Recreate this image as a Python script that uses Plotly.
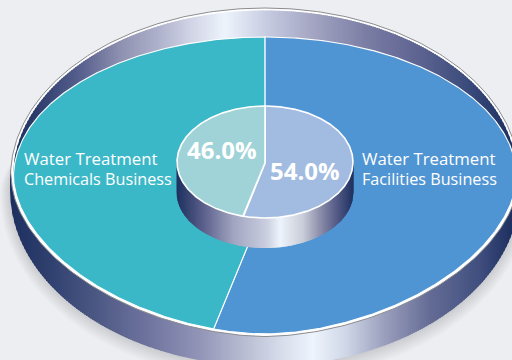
import numpy as np
import plotly.graph_objects as go

# Business segment shares (percent), drawn clockwise from twelve o'clock
categories = ["Water Treatment Facilities Business", "Water Treatment Chemicals Business"]
shares = [54.0, 46.0]
share_labels = ["54.0%", "46.0%"]
label_lines_right = ["Water Treatment", "Facilities Business"]
label_lines_left = ["Water Treatment", "Chemicals Business"]

BG = "#edeef1"
CX = 265.0
FONT = "Open Sans"

DARK = "#1b2f5e"
BACK_STOPS = [(10, DARK), (33, "#2a3a6a"), (83, "#5a6290"), (120, "#8e90b0"), (160, "#b0b3cc"),
              (190, "#cfd3e5"), (225, "#eef4fc"), (265, "#c8cde2"), (310, "#a5a7c4"),
              (370, "#787ba2"), (420, "#5c6390"), (470, "#394a7a"), (512, "#1d3060")]
FRONT_STOPS = [(10, DARK), (50, "#30406f"), (100, "#4e5a85"), (150, "#7075a0"), (200, "#9295b7"),
               (240, "#b5b9d0"), (290, "#dde4f0"), (313, "#eef4fc"), (345, "#d0d8e8"),
               (385, "#9a9ebc"), (430, "#646c95"), (480, "#3f4e7e"), (512, "#1d3060")]
HUB_STOPS = [(176, DARK), (203, "#5a5f8a"), (233, "#a0a4c0"), (267, "#cacfe0"), (280, "#eef4fc"),
             (303, "#c8cdd8"), (320, "#8c8eaa"), (335, "#5a5f8a"), (354, DARK)]


def hex_rgb(h):
    return np.array([int(h[i:i + 2], 16) for i in (1, 3, 5)], dtype=float)


def ramp(x, stops):
    xs = [s[0] for s in stops]
    cols = np.array([hex_rgb(s[1]) for s in stops])
    r, g, b = (np.interp(x, xs, cols[:, i]) for i in range(3))
    return f"rgb({r:.0f},{g:.0f},{b:.0f})"


def half(x, cy, rx, ry, sign, p=2.0):
    """Half of a (super)ellipse centred on CX; sign -1 is the upper half, +1 the lower."""
    u = np.clip(np.abs(np.asarray(x, dtype=float) - CX) / rx, 0, 1)
    return cy + sign * ry * (1 - u ** p) ** (1 / p)


# Outline curves of the large dish
RIM_TOP = dict(cy=177, rx=254.5, ry=169, sign=-1)
RIM_INNER = dict(cy=177, rx=252, ry=166.5, sign=-1)
FACE_TOP = dict(cy=177, rx=251.5, ry=140, sign=-1)
FACE_BOTTOM = dict(cy=177, rx=251.5, ry=157, sign=1, p=1.8)
RIM_BOTTOM = dict(cy=179, rx=253.5, ry=157.5, sign=1, p=1.8)
WALL_BOTTOM = dict(cy=190, rx=255, ry=176, sign=1)
APEX_Y = 204.0

# The central hub
HUB_TOP = dict(cy=162, rx=88, ry=56, sign=-1)
HUB_BOTTOM = dict(cy=162, rx=88, ry=56, sign=1)
HUB_WALL = dict(cy=192, rx=88.5, ry=56, sign=1)


def closed_outline(top, bottom, n=400):
    t = np.linspace(0, 2 * np.pi, n)
    xs = []
    ys = []
    for a in t:
        curve = top if np.cos(a) >= 0 else bottom
        x = CX + curve["rx"] * np.sin(a)
        xs.append(x)
        ys.append(float(half(x, **curve)))
    return xs, ys


def wedge(top, bottom, apex_y, start, stop, n=400):
    """Slice between two cumulative fractions, with its point at (CX, apex_y)."""
    def point(a):
        curve = top if np.cos(a) >= 0 else bottom
        x = CX + curve["rx"] * np.sin(a)
        return x, float(half(x, **curve))

    def on_ray(frac):
        ang = 2 * np.pi * frac
        dx, dy = bottom["rx"] * np.sin(ang), -(top["ry"] if np.cos(ang) >= 0 else bottom["ry"]) * np.cos(ang)
        best, best_err = ang, 1e12
        for a in np.linspace(ang - 0.6, ang + 0.6, 1200):
            px, py = point(a)
            vx, vy = px - CX, py - apex_y
            if vx * dx + vy * dy <= 0:
                continue
            err = abs(vx * dy - vy * dx)
            if err < best_err:
                best, best_err = a, err
        return best

    a0, a1 = on_ray(start), on_ray(stop)
    pts = [point(a) for a in np.linspace(a0, a1, n)]
    return [CX] + [p[0] for p in pts] + [CX], [apex_y] + [p[1] for p in pts] + [apex_y]


def strips(fig, x_left, x_right, y_upper, y_lower, stops, step=2):
    """Vertical bands that build a left-to-right metallic shading; each follows its bounding curves."""
    for x in np.arange(x_left, x_right, step):
        sub = np.linspace(x, min(x + step + 1, x_right), 6)
        top = np.asarray(y_upper(sub), dtype=float) * np.ones_like(sub)
        bot = np.asarray(y_lower(sub), dtype=float) * np.ones_like(sub)
        if np.all(bot <= top):
            continue
        xs = list(sub) + list(sub[::-1]) + [sub[0]]
        ys = list(top) + list(bot[::-1]) + [top[0]]
        fig.add_trace(go.Scatter(x=xs, y=ys, mode="lines", line=dict(width=0), fill="toself",
                                 fillcolor=ramp(x + step / 2, stops),
                                 hoverinfo="skip", showlegend=False))


fig = go.Figure()


def poly(xs, ys, fill, line_color=None, line_width=0, name=None):
    fig.add_trace(go.Scatter(x=xs, y=ys, mode="lines", fill="toself", fillcolor=fill,
                             line=dict(color=line_color or fill, width=line_width),
                             hoverinfo="skip", showlegend=False, name=name))


# Soft drop shadow under the lower half of the dish; the upper half stays hidden behind the rim
for k in range(1, 12):
    low = dict(cy=190 + k * 0.4, rx=255 + k * 0.9, ry=176 + k * 1.0, sign=1)
    up = dict(cy=190 + k * 0.4, rx=255 + k * 0.9, ry=110, sign=-1)
    sx, sy = closed_outline(up, low)
    poly(sx, sy, "rgba(60,60,70,0.014)")

# Outer wall of the dish
strips(fig, 10, 520, lambda x: 170.0 + 0 * x, lambda x: half(x, **WALL_BOTTOM), FRONT_STOPS)

# White rim with its thin grey edge, then the shaded back wall inside it
rx_, ry_ = closed_outline(RIM_TOP, RIM_BOTTOM)
poly(rx_, ry_, "#ffffff", "#8b8c90", 1)
strips(fig, 13, 517,
       lambda x: half(x, **RIM_INNER),
       lambda x: half(x, **FACE_TOP) + 2, BACK_STOPS)

# Outer ring slices
face_colors = ["#5095d3", "#3bb8c8"]
hub_colors = ["#a2bbe0", "#9fd3d8"]
edges = np.cumsum([0.0] + shares) / sum(shares)
for i, cat in enumerate(categories):
    xs, ys = wedge(FACE_TOP, FACE_BOTTOM, APEX_Y, edges[i], edges[i + 1])
    poly(xs, ys, face_colors[i], "#ffffff", 1.1, name=cat)

# Hub wall and top
strips(fig, 176.5, 353.5, lambda x: 162.0 + 0 * x, lambda x: half(x, **HUB_WALL), HUB_STOPS, step=1)
for i, cat in enumerate(categories):
    xs, ys = wedge(HUB_TOP, HUB_BOTTOM, 163.0, edges[i], edges[i + 1])
    poly(xs, ys, hub_colors[i], "#ffffff", 1.6, name=cat)


def text(x, y, s, size, bold=False, anchor="left"):
    fig.add_annotation(x=x, y=y, text=f"<b>{s}</b>" if bold else s, showarrow=False,
                       xanchor=anchor, yanchor="middle", align="left", xref="x", yref="y",
                       font=dict(family=FONT, size=size, color="#ffffff"))


# Two-line captions: the base size sets the line spacing, the spans set each line's width
line_sizes = [16.8, 16.2]


def caption(lines):
    return "<br>".join(f'<span style="font-size:{size}px">{s}</span>' for s, size in zip(lines, line_sizes))


text(22, 168, caption(label_lines_left), 15.4)
text(360, 168, caption(label_lines_right), 15.4)
text(305, 170, share_labels[0], 24, bold=True, anchor="center")
text(222, 149, share_labels[1], 24, bold=True, anchor="center")

fig.update_layout(
    width=512, height=360, autosize=False,
    margin=dict(l=0, r=0, t=0, b=0),
    paper_bgcolor=BG, plot_bgcolor=BG, showlegend=False,
    xaxis=dict(range=[0, 512], visible=False, fixedrange=True),
    yaxis=dict(range=[360, 0], visible=False, fixedrange=True),
)
fig.write_html("out.html", config=dict(displayModeBar=False, responsive=False))
